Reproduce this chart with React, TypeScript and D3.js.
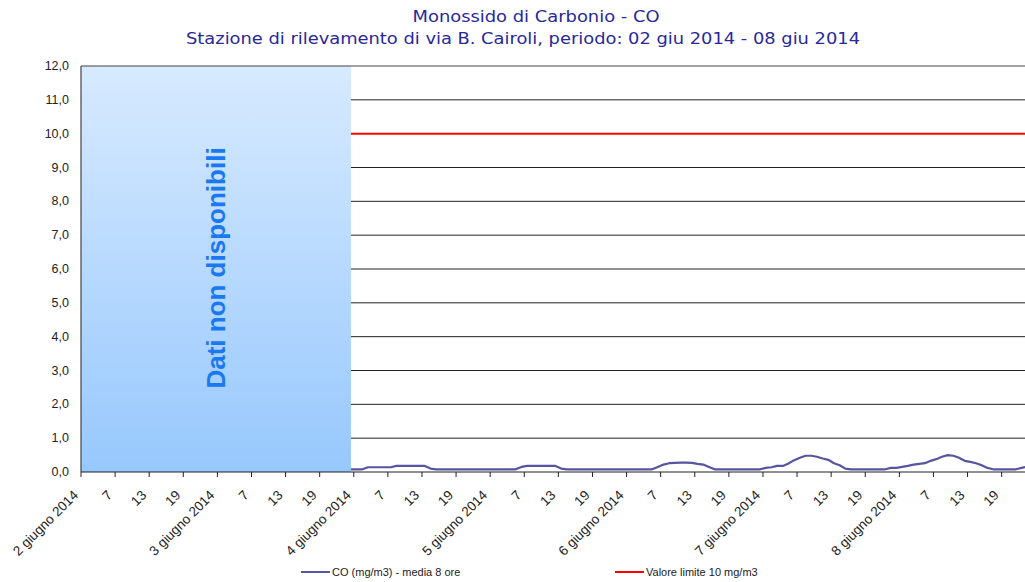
import React from "react";
import * as d3 from "d3";

const titleLines = [
  "Monossido di Carbonio - CO",
  "Stazione di rilevamento di via B. Cairoli, periodo: 02 giu 2014 - 08 giu 2014",
];
const dayLabels = [
  "2 giugno 2014",
  "3 giugno 2014",
  "4 giugno 2014",
  "5 giugno 2014",
  "6 giugno 2014",
  "7 giugno 2014",
  "8 giugno 2014",
];
const hourLabels = ["7", "13", "19"];
const yTicks = [0, 1, 2, 3, 4, 5, 6, 7, 8, 9, 10, 11, 12];
const limitValue = 10;
const totalHours = 168;
const dataStartHour = 47; // hours 0..47 "Dati non disponibili" (band ends at hour 47)
// CO 8h moving average, hourly from hour 47
const coValues = [
  0.08, 0.08, 0.08,
  0.14, 0.14, 0.14, 0.14, 0.14,
  0.18, 0.18, 0.18, 0.18, 0.18, 0.18,
  0.1,
  0.08, 0.08, 0.08, 0.08, 0.08, 0.08, 0.08, 0.08, 0.08, 0.08, 0.08, 0.08, 0.08, 0.08, 0.08,
  0.15,
  0.18, 0.18, 0.18, 0.18, 0.18, 0.18,
  0.1,
  0.08, 0.08, 0.08, 0.08, 0.08, 0.08, 0.08, 0.08, 0.08, 0.08, 0.08, 0.08, 0.08, 0.08, 0.08, 0.08,
  0.15, 0.22, 0.26, 0.27, 0.28, 0.28, 0.27, 0.24, 0.22, 0.15, 0.08,
  0.08, 0.08, 0.08, 0.08, 0.08, 0.08, 0.08, 0.08,
  0.12, 0.14, 0.18, 0.18, 0.25, 0.35, 0.42, 0.48, 0.48, 0.45, 0.4, 0.36, 0.26, 0.2, 0.1,
  0.08, 0.08, 0.08, 0.08, 0.08, 0.08, 0.08,
  0.12, 0.12, 0.15, 0.18, 0.22, 0.24, 0.26, 0.33, 0.38, 0.45, 0.5, 0.48, 0.42, 0.33, 0.3, 0.26, 0.2, 0.12,
  0.08, 0.08, 0.08, 0.08, 0.08,
  0.12, 0.16, 0.2,
];
const legendItems = ["CO (mg/m3) - media 8 ore", "Valore limite 10 mg/m3"];

const W = 1025;
const H = 582;
const left = 81;
const hourW = 5.683;
const top = 66;
const bottom = 472;

export default function App() {
  const x = d3.scaleLinear().domain([0, totalHours]).range([left, left + totalHours * hourW]);
  const y = d3.scaleLinear().domain([0, 12]).range([bottom, top]);
  const right = x(totalHours);
  const boxEnd = x(dataStartHour + 0.5);

  const pts = coValues.map((v, k) => [x(dataStartHour + k + 0.5), y(v)] as [number, number]);
  const line = d3.line().curve(d3.curveLinear)(pts) || "";

  const ticks = d3.range(0, totalHours / 6);
  const axisFont = "'Liberation Sans', Arial, sans-serif";
  const lineColor = "#5555a2";

  return (
    <svg width={W} height={H} style={{ position: "absolute", left: 0, top: 0, background: "#fff" }}
      fontFamily={axisFont}>
      <defs>
        <linearGradient id="nd" x1="0" y1="0" x2="0" y2="1">
          <stop offset="0" stopColor="#d7eaff" />
          <stop offset="1" stopColor="#97c8fd" />
        </linearGradient>
      </defs>
      <text x={536} y={22} textAnchor="middle" fontFamily="'DejaVu Sans', Tahoma, sans-serif" fontSize={16}
        fill="#28289a" textLength={247} lengthAdjust="spacingAndGlyphs">{titleLines[0]}</text>
      <text x={523} y={44} textAnchor="middle" fontFamily="'DejaVu Sans', Tahoma, sans-serif" fontSize={16}
        fill="#28289a" textLength={674} lengthAdjust="spacingAndGlyphs">{titleLines[1]}</text>

      <rect x={left} y={top} width={boxEnd - left} height={bottom - top} fill="url(#nd)" />
      <text transform={`translate(${216},${268}) rotate(-90)`} textAnchor="middle" dominantBaseline="central"
        fontFamily="'Liberation Sans', Arial, sans-serif" fontWeight="bold" fontSize={26} fill="#1a78f2">
        Dati non disponibili
      </text>

      {yTicks.filter((t) => t > 0 && t < 12 && t !== limitValue).map((t) => (
        <line key={t} x1={boxEnd} x2={right} y1={y(t)} y2={y(t)} stroke="#222" strokeWidth={1} />
      ))}
      <line x1={boxEnd} x2={right} y1={y(limitValue)} y2={y(limitValue)} stroke="#ff0000" strokeWidth={2} />
      <line x1={left} x2={right} y1={top} y2={top} stroke="#444" strokeWidth={1.2} />
      <line x1={left} x2={left} y1={top} y2={bottom} stroke="#444" strokeWidth={1.2} />
      <line x1={left} x2={right} y1={bottom} y2={bottom} stroke="#222" strokeWidth={1.2} />

      {yTicks.map((t) => (
        <text key={t} x={69} y={y(t)} textAnchor="end" dominantBaseline="central" fontSize={12.5} fill="#222">
          {t.toFixed(1).replace(".", ",")}
        </text>
      ))}

      {ticks.map((k) => {
        const tx = x(k * 6);
        const label = k % 4 === 0 ? dayLabels[k / 4] : hourLabels[(k % 4) - 1];
        return (
          <g key={k}>
            <line x1={tx} x2={tx} y1={bottom} y2={bottom + 5} stroke="#222" />
            <text transform={`translate(${tx - 2},${bottom + 24}) rotate(-45)`} textAnchor="end" fontSize={13.5}
              fill="#222">{label}</text>
          </g>
        );
      })}

      <path d={line} fill="none" stroke={lineColor} strokeWidth={2.2} strokeLinejoin="round" />

      <line x1={301} x2={330} y1={572} y2={572} stroke={lineColor} strokeWidth={2} />
      <text x={332} y={572} dominantBaseline="central" fontSize={11} fill="#222">{legendItems[0]}</text>
      <line x1={615} x2={644} y1={572} y2={572} stroke="#ff0000" strokeWidth={2} />
      <text x={646} y={572} dominantBaseline="central" fontSize={11} fill="#222">{legendItems[1]}</text>
    </svg>
  );
}
